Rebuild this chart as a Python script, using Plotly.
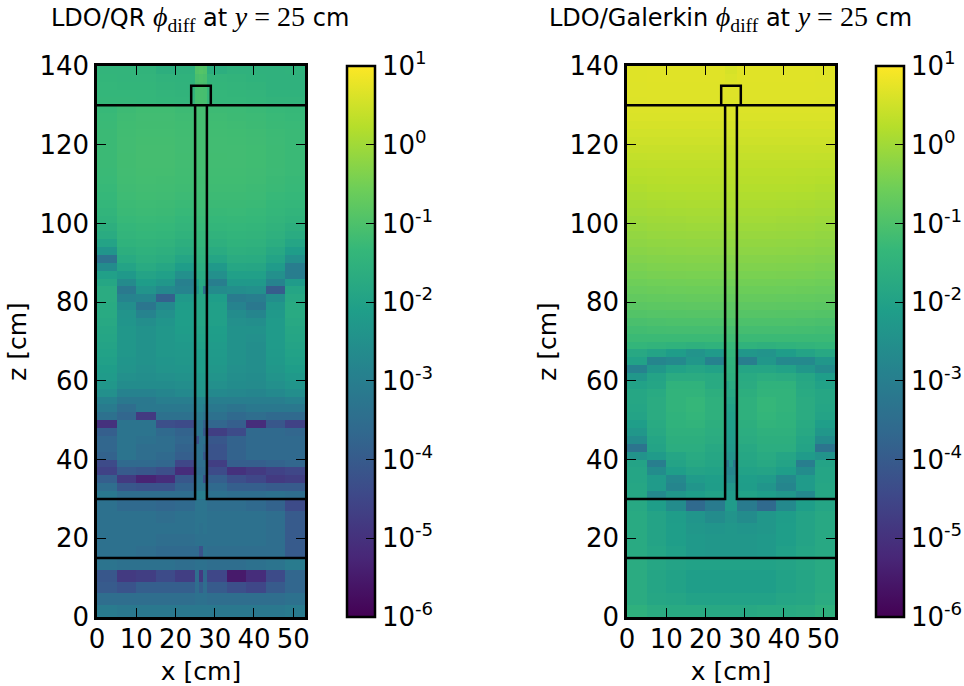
import plotly.graph_objects as go

# Mesh edges (cm)
x_edges = [0, 5, 10, 15, 20, 25, 26, 27, 28, 33, 38, 43, 48, 53]
z_edges = [0, 3, 6, 9, 12, 15, 18, 21, 24, 27, 30] + list(range(32, 142, 2))

# log10(phi_diff); rows listed from the top (z=140) to the bottom (z=0)
qr_rows = [
    [-1.42,-1.42,-1.45,-1.60,-1.55,-0.95,-0.90,-0.95,-1.62,-1.52,-1.52,-1.52,-1.50],
    [-1.40,-1.42,-1.42,-1.48,-1.50,-1.05,-1.00,-1.05,-1.42,-1.45,-1.50,-1.52,-1.52],
    [-1.38,-1.40,-1.40,-1.45,-1.48,-1.10,-1.05,-1.10,-1.40,-1.42,-1.45,-1.52,-1.52],
    [-1.36,-1.38,-1.38,-1.42,-1.45,-1.10,-1.08,-1.10,-1.38,-1.40,-1.42,-1.50,-1.50],
    [-1.35,-1.35,-1.38,-1.40,-1.42,-1.10,-1.08,-1.10,-1.38,-1.38,-1.40,-1.45,-1.45],
    [-1.30,-1.22,-1.18,-1.18,-1.22,-1.12,-1.12,-1.12,-1.22,-1.24,-1.26,-1.30,-1.32],
    [-1.28,-1.20,-1.16,-1.16,-1.20,-1.12,-1.12,-1.12,-1.20,-1.22,-1.24,-1.28,-1.30],
    [-1.26,-1.18,-1.15,-1.15,-1.18,-1.12,-1.12,-1.12,-1.18,-1.20,-1.22,-1.26,-1.28],
    [-1.25,-1.17,-1.14,-1.14,-1.17,-1.12,-1.12,-1.12,-1.17,-1.18,-1.20,-1.24,-1.27],
    [-1.25,-1.16,-1.13,-1.13,-1.16,-1.12,-1.12,-1.12,-1.16,-1.17,-1.19,-1.23,-1.26],
    [-1.25,-1.16,-1.12,-1.12,-1.16,-1.12,-1.12,-1.12,-1.16,-1.16,-1.18,-1.22,-1.26],
    [-1.25,-1.15,-1.12,-1.12,-1.15,-1.12,-1.12,-1.12,-1.15,-1.16,-1.18,-1.22,-1.26],
    [-1.25,-1.15,-1.12,-1.12,-1.16,-1.13,-1.13,-1.13,-1.16,-1.16,-1.18,-1.22,-1.26],
    [-1.26,-1.16,-1.13,-1.13,-1.17,-1.14,-1.14,-1.14,-1.17,-1.17,-1.19,-1.23,-1.27],
    [-1.28,-1.17,-1.14,-1.15,-1.18,-1.15,-1.15,-1.15,-1.18,-1.18,-1.20,-1.25,-1.29],
    [-1.30,-1.19,-1.16,-1.17,-1.20,-1.16,-1.16,-1.16,-1.20,-1.20,-1.22,-1.27,-1.31],
    [-1.33,-1.21,-1.18,-1.19,-1.23,-1.18,-1.18,-1.18,-1.22,-1.22,-1.24,-1.30,-1.34],
    [-1.37,-1.24,-1.21,-1.22,-1.27,-1.20,-1.20,-1.20,-1.25,-1.25,-1.27,-1.33,-1.38],
    [-1.43,-1.27,-1.24,-1.25,-1.31,-1.23,-1.23,-1.23,-1.29,-1.28,-1.30,-1.37,-1.43],
    [-1.50,-1.31,-1.28,-1.29,-1.36,-1.26,-1.26,-1.26,-1.34,-1.32,-1.34,-1.42,-1.50],
    [-1.60,-1.36,-1.32,-1.34,-1.42,-1.30,-1.30,-1.30,-1.40,-1.37,-1.39,-1.48,-1.60],
    [-1.72,-1.42,-1.38,-1.40,-1.50,-1.35,-1.35,-1.35,-1.48,-1.43,-1.45,-1.56,-1.72],
    [-1.95,-1.50,-1.45,-1.48,-1.60,-1.40,-1.40,-1.40,-1.58,-1.50,-1.52,-1.66,-1.90],
    [-2.35,-1.60,-1.53,-1.57,-1.72,-1.48,-1.48,-1.48,-1.72,-1.58,-1.60,-1.80,-2.15],
    [-3.35,-1.75,-1.62,-1.68,-1.90,-1.55,-1.55,-1.55,-1.90,-1.70,-1.72,-1.95,-2.50],
    [-2.60,-1.95,-1.75,-1.85,-2.15,-1.65,-1.65,-1.65,-2.25,-1.85,-1.88,-2.20,-3.05],
    [-2.05,-2.25,-1.95,-2.05,-2.50,-1.75,-1.75,-1.75,-2.50,-2.05,-2.05,-2.50,-3.05],
    [-1.85,-2.65,-2.15,-2.30,-2.95,-2.10,-1.80,-1.85,-3.00,-2.25,-2.25,-2.85,-2.20],
    [-1.70,-3.15,-2.40,-2.70,-2.85,-2.35,-1.85,-3.40,-2.65,-2.55,-2.50,-3.95,-1.90],
    [-1.70,-2.85,-2.80,-3.85,-2.25,-1.90,-1.90,-1.90,-2.10,-3.10,-3.00,-2.55,-1.80],
    [-1.75,-2.55,-3.25,-2.70,-2.15,-1.90,-1.90,-1.90,-2.05,-2.85,-3.20,-2.30,-1.75],
    [-1.75,-2.40,-2.85,-2.50,-2.10,-1.90,-1.90,-1.90,-2.05,-2.60,-2.80,-2.25,-1.75],
    [-1.80,-2.35,-2.55,-2.35,-2.10,-1.90,-1.90,-1.90,-2.05,-2.50,-2.55,-2.20,-1.80],
    [-1.85,-2.30,-2.45,-2.30,-2.15,-1.95,-1.95,-1.95,-2.10,-2.45,-2.45,-2.20,-1.85],
    [-1.90,-2.30,-2.45,-2.30,-2.20,-2.00,-2.00,-2.00,-2.15,-2.45,-2.50,-2.20,-1.90],
    [-1.95,-2.30,-2.45,-2.30,-2.25,-2.05,-2.05,-2.05,-2.20,-2.45,-2.55,-2.20,-1.95],
    [-2.00,-2.30,-2.45,-2.30,-2.28,-2.10,-2.10,-2.10,-2.22,-2.45,-2.55,-2.22,-2.00],
    [-2.05,-2.35,-2.45,-2.35,-2.30,-2.15,-2.15,-2.15,-2.25,-2.45,-2.55,-2.25,-2.05],
    [-2.15,-2.40,-2.50,-2.40,-2.35,-2.15,-2.15,-2.15,-2.30,-2.50,-2.55,-2.30,-2.15],
    [-2.20,-2.50,-2.55,-2.50,-2.45,-2.25,-2.25,-2.25,-2.40,-2.55,-2.60,-2.40,-2.25],
    [-2.30,-2.60,-2.60,-2.60,-2.55,-2.30,-2.30,-2.30,-2.50,-2.60,-2.65,-2.50,-2.35],
    [-2.50,-2.90,-2.90,-2.80,-2.70,-2.40,-2.40,-2.40,-2.70,-2.75,-2.80,-2.70,-2.55],
    [-2.90,-3.20,-3.20,-3.00,-3.00,-2.80,-2.80,-2.80,-3.00,-3.00,-3.00,-3.00,-2.90],
    [-3.10,-3.50,-3.20,-3.20,-3.20,-2.90,-2.90,-3.10,-3.20,-3.30,-3.20,-3.20,-3.20],
    [-3.40,-3.70,-4.80,-3.40,-3.40,-3.10,-3.10,-3.30,-3.40,-3.60,-3.50,-3.60,-3.60],
    [-5.00,-3.30,-3.30,-4.30,-4.40,-3.30,-3.30,-3.80,-3.70,-3.90,-5.10,-4.10,-4.60],
    [-3.90,-3.30,-3.30,-3.60,-3.80,-3.30,-3.30,-4.10,-4.70,-4.40,-3.60,-3.60,-3.70],
    [-3.70,-3.30,-3.40,-3.50,-3.70,-4.20,-3.40,-3.40,-4.10,-3.80,-3.60,-3.60,-3.60],
    [-3.70,-3.30,-3.50,-3.50,-3.80,-3.40,-3.40,-3.70,-4.20,-3.80,-3.60,-3.60,-3.60],
    [-3.80,-3.30,-3.50,-3.60,-3.90,-3.40,-3.40,-4.10,-4.20,-3.80,-3.60,-3.60,-3.60],
    [-4.40,-3.60,-3.60,-3.70,-4.50,-3.50,-3.50,-3.50,-4.70,-3.90,-3.90,-3.80,-3.70],
    [-4.60,-4.00,-4.10,-4.30,-5.10,-3.60,-3.60,-3.60,-4.40,-5.00,-4.80,-4.60,-4.50],
    [-3.90,-4.80,-5.30,-5.10,-4.10,-3.40,-3.40,-4.30,-3.90,-4.30,-4.50,-4.80,-4.70],
    [-3.50,-4.10,-4.20,-4.20,-3.80,-3.30,-3.30,-3.30,-3.60,-3.90,-3.90,-4.00,-4.00],
    [-3.20,-3.50,-3.50,-3.50,-3.50,-3.00,-3.00,-3.00,-3.40,-3.50,-3.50,-3.40,-3.50],
    [-3.40,-3.60,-3.60,-3.70,-3.60,-3.30,-3.30,-3.30,-3.50,-3.50,-3.60,-3.80,-4.40],
    [-3.40,-3.40,-3.40,-3.50,-3.40,-3.30,-3.30,-3.30,-3.40,-3.40,-3.40,-3.50,-4.00],
    [-3.40,-3.40,-3.40,-3.40,-3.40,-3.30,-3.40,-3.30,-3.40,-3.40,-3.40,-3.50,-4.00],
    [-3.40,-3.40,-3.40,-3.50,-3.50,-3.40,-3.40,-3.40,-3.40,-3.40,-3.40,-3.50,-4.00],
    [-3.40,-3.40,-3.50,-3.60,-3.60,-3.60,-4.20,-3.40,-3.50,-3.50,-3.50,-3.50,-4.00],
    [-3.30,-3.40,-3.40,-3.40,-3.50,-3.40,-3.40,-3.40,-3.50,-3.50,-3.40,-3.30,-3.10],
    [-4.10,-4.80,-4.70,-4.40,-4.70,-3.50,-4.80,-3.60,-4.50,-5.50,-5.10,-4.40,-3.70],
    [-4.00,-4.20,-3.90,-3.90,-3.90,-3.50,-3.90,-3.50,-4.00,-4.30,-4.50,-4.00,-3.70],
    [-3.50,-3.50,-3.50,-3.50,-3.50,-3.40,-3.40,-3.40,-3.50,-3.50,-3.50,-3.50,-3.40],
    [-3.10,-3.20,-3.20,-3.20,-3.20,-3.20,-3.20,-3.20,-3.20,-3.20,-3.20,-3.20,-3.10],
]

galerkin_rows = [
    [0.68,0.69,0.69,0.69,0.69,0.58,0.58,0.58,0.69,0.69,0.69,0.69,0.68],
    [0.68,0.69,0.69,0.69,0.69,0.62,0.62,0.62,0.69,0.69,0.69,0.69,0.68],
    [0.67,0.68,0.68,0.68,0.68,0.66,0.66,0.66,0.68,0.68,0.68,0.68,0.67],
    [0.66,0.67,0.67,0.67,0.67,0.66,0.66,0.66,0.67,0.67,0.67,0.67,0.66],
    [0.65,0.66,0.66,0.66,0.66,0.65,0.65,0.65,0.66,0.66,0.66,0.66,0.65],
    [0.64,0.64,0.64,0.64,0.64,0.64,0.64,0.64,0.64,0.64,0.64,0.64,0.64],
    [0.62,0.62,0.62,0.62,0.62,0.62,0.62,0.62,0.62,0.62,0.62,0.62,0.62],
    [0.58,0.58,0.58,0.58,0.58,0.58,0.58,0.58,0.58,0.58,0.58,0.58,0.58],
    [0.53,0.53,0.53,0.53,0.53,0.53,0.53,0.53,0.53,0.53,0.53,0.53,0.53],
    [0.48,0.48,0.48,0.48,0.48,0.48,0.48,0.48,0.48,0.48,0.48,0.48,0.48],
    [0.43,0.43,0.43,0.43,0.43,0.43,0.43,0.43,0.43,0.43,0.43,0.43,0.43],
    [0.37,0.38,0.38,0.38,0.38,0.38,0.38,0.38,0.38,0.38,0.38,0.38,0.37],
    [0.32,0.33,0.33,0.33,0.33,0.33,0.33,0.33,0.33,0.33,0.33,0.33,0.32],
    [0.27,0.28,0.29,0.29,0.29,0.29,0.29,0.29,0.29,0.29,0.29,0.28,0.27],
    [0.22,0.24,0.25,0.25,0.25,0.25,0.25,0.25,0.25,0.25,0.25,0.24,0.22],
    [0.17,0.20,0.21,0.21,0.21,0.21,0.21,0.21,0.21,0.21,0.21,0.20,0.17],
    [0.12,0.15,0.16,0.17,0.17,0.17,0.17,0.17,0.17,0.17,0.16,0.15,0.12],
    [0.07,0.10,0.11,0.12,0.12,0.12,0.12,0.12,0.12,0.12,0.11,0.10,0.07],
    [0.02,0.05,0.06,0.07,0.07,0.07,0.07,0.07,0.07,0.07,0.06,0.05,0.02],
    [-0.04,-0.01,0.00,0.02,0.02,0.02,0.02,0.02,0.02,0.02,0.00,-0.01,-0.04],
    [-0.09,-0.06,-0.05,-0.04,-0.04,-0.04,-0.04,-0.04,-0.04,-0.04,-0.05,-0.06,-0.09],
    [-0.15,-0.12,-0.11,-0.10,-0.10,-0.10,-0.10,-0.10,-0.10,-0.10,-0.11,-0.12,-0.15],
    [-0.21,-0.18,-0.17,-0.16,-0.16,-0.16,-0.16,-0.16,-0.16,-0.16,-0.17,-0.18,-0.21],
    [-0.27,-0.24,-0.23,-0.22,-0.22,-0.22,-0.22,-0.22,-0.22,-0.22,-0.23,-0.24,-0.27],
    [-0.34,-0.31,-0.30,-0.29,-0.29,-0.29,-0.29,-0.29,-0.29,-0.29,-0.30,-0.31,-0.34],
    [-0.41,-0.38,-0.37,-0.36,-0.36,-0.36,-0.36,-0.36,-0.36,-0.36,-0.37,-0.38,-0.41],
    [-0.48,-0.45,-0.44,-0.43,-0.43,-0.43,-0.43,-0.43,-0.43,-0.43,-0.44,-0.45,-0.48],
    [-0.56,-0.53,-0.52,-0.51,-0.51,-0.51,-0.51,-0.51,-0.51,-0.51,-0.52,-0.53,-0.56],
    [-0.64,-0.61,-0.60,-0.59,-0.59,-0.59,-0.59,-0.59,-0.59,-0.59,-0.60,-0.61,-0.64],
    [-0.72,-0.70,-0.69,-0.68,-0.68,-0.68,-0.68,-0.68,-0.68,-0.68,-0.69,-0.70,-0.72],
    [-0.82,-0.80,-0.79,-0.78,-0.78,-0.78,-0.78,-0.78,-0.78,-0.78,-0.79,-0.80,-0.82],
    [-0.92,-0.90,-0.89,-0.88,-0.88,-0.86,-0.86,-0.86,-0.88,-0.88,-0.89,-0.90,-0.92],
    [-1.05,-1.02,-1.01,-1.00,-1.00,-0.96,-0.96,-0.96,-1.00,-1.00,-1.01,-1.02,-1.05],
    [-1.15,-1.13,-1.12,-1.12,-1.12,-1.08,-1.08,-1.08,-1.12,-1.12,-1.12,-1.13,-1.15],
    [-1.25,-1.25,-1.25,-1.25,-1.25,-1.18,-1.18,-1.18,-1.25,-1.25,-1.25,-1.25,-1.25],
    [-1.40,-1.45,-1.50,-1.55,-1.50,-1.30,-1.30,-1.30,-1.50,-1.55,-1.50,-1.45,-1.40],
    [-1.80,-1.95,-2.15,-2.40,-2.20,-1.40,-1.40,-1.40,-2.30,-2.40,-2.15,-1.95,-1.80],
    [-2.00,-2.80,-2.70,-2.30,-2.90,-1.50,-1.50,-1.50,-3.00,-2.30,-2.70,-2.70,-2.30],
    [-2.90,-2.30,-2.00,-1.90,-2.00,-1.55,-1.55,-1.55,-1.90,-1.90,-2.00,-2.30,-2.60],
    [-2.30,-1.95,-1.70,-1.70,-1.75,-1.60,-1.60,-1.60,-1.75,-1.65,-1.70,-1.85,-2.10],
    [-2.00,-1.90,-1.50,-1.50,-1.75,-1.90,-1.70,-1.70,-1.70,-1.50,-1.50,-1.80,-2.00],
    [-1.85,-1.75,-1.45,-1.45,-1.60,-1.80,-1.80,-1.80,-1.60,-1.45,-1.45,-1.75,-1.85],
    [-1.85,-1.70,-1.45,-1.35,-1.55,-1.90,-1.90,-1.90,-1.55,-1.35,-1.45,-1.70,-1.85],
    [-1.90,-1.70,-1.45,-1.35,-1.55,-2.00,-2.00,-2.00,-1.55,-1.35,-1.45,-1.70,-1.90],
    [-1.95,-1.70,-1.50,-1.40,-1.55,-2.05,-2.05,-2.05,-1.55,-1.40,-1.50,-1.70,-1.95],
    [-2.10,-1.75,-1.50,-1.45,-1.60,-2.10,-2.10,-2.10,-1.60,-1.45,-1.50,-1.75,-2.10],
    [-2.30,-1.80,-1.55,-1.55,-1.65,-2.15,-2.15,-2.15,-1.65,-1.55,-1.55,-1.80,-2.30],
    [-2.60,-1.90,-1.60,-1.60,-1.70,-2.20,-2.20,-2.20,-1.70,-1.60,-1.60,-1.90,-2.60],
    [-3.30,-1.95,-1.65,-1.65,-1.80,-2.25,-2.25,-2.25,-1.80,-1.65,-1.65,-1.95,-3.30],
    [-2.40,-2.20,-1.90,-1.75,-1.85,-2.40,-2.40,-2.40,-1.85,-1.75,-1.90,-2.20,-2.40],
    [-1.95,-3.00,-1.95,-1.80,-1.90,-3.10,-2.40,-3.10,-1.90,-1.80,-1.95,-3.00,-1.95],
    [-1.90,-2.60,-2.10,-1.95,-2.00,-2.80,-2.80,-2.80,-2.00,-1.95,-2.10,-2.60,-1.90],
    [-1.90,-2.20,-2.70,-2.20,-2.10,-2.60,-2.60,-2.60,-2.10,-2.20,-2.70,-2.20,-1.90],
    [-1.85,-2.20,-2.80,-2.35,-2.15,-2.30,-2.30,-2.30,-2.15,-2.35,-2.80,-2.20,-1.85],
    [-1.85,-2.70,-2.30,-2.10,-2.00,-2.20,-2.20,-2.20,-2.00,-2.10,-2.30,-2.70,-1.85],
    [-1.80,-2.10,-2.60,-3.60,-3.10,-2.20,-2.20,-2.20,-3.10,-3.60,-2.70,-2.10,-1.90],
    [-1.75,-1.95,-2.15,-2.35,-2.60,-2.40,-2.40,-2.40,-2.60,-2.30,-2.15,-1.95,-1.80],
    [-1.75,-1.95,-2.10,-2.30,-2.35,-2.30,-2.30,-2.30,-2.35,-2.30,-2.10,-1.95,-1.80],
    [-1.75,-1.95,-2.10,-2.25,-2.30,-2.30,-2.30,-2.30,-2.30,-2.25,-2.10,-1.95,-1.80],
    [-1.75,-1.90,-2.05,-2.25,-2.30,-2.30,-2.30,-2.30,-2.30,-2.25,-2.05,-1.90,-1.80],
    [-1.70,-1.85,-1.95,-2.00,-2.00,-2.00,-2.00,-2.00,-2.00,-2.00,-1.95,-1.85,-1.75],
    [-1.70,-1.90,-2.00,-2.10,-2.10,-2.10,-2.10,-2.10,-2.10,-2.10,-2.00,-1.90,-1.75],
    [-1.70,-1.90,-2.00,-2.10,-2.10,-2.10,-2.10,-2.10,-2.10,-2.10,-2.00,-1.90,-1.75],
    [-1.70,-1.85,-1.90,-2.00,-2.00,-2.00,-2.00,-2.00,-2.00,-2.00,-1.90,-1.85,-1.70],
    [-1.55,-1.70,-1.75,-1.75,-1.80,-1.80,-1.80,-1.80,-1.80,-1.75,-1.75,-1.70,-1.55],
]

# Geometry outline segments (cm): x and z, None separates segments
outline_x = [0, 53, None, 24, 24, 29, 29, None, 25, 25, 0, None, 28, 28, 53, None, 0, 53]
outline_z = [130, 130, None, 130, 135, 135, 130, None, 130, 30, 30, None, 130, 30, 30, None, 15, 15]

x_ticks = [0, 10, 20, 30, 40, 50]
z_ticks = [0, 20, 40, 60, 80, 100, 120, 140]
cbar_exponents = [-6, -5, -4, -3, -2, -1, 0, 1]
cbar_labels = ["10<sup>%d</sup>" % e for e in cbar_exponents]

W, H = 964, 686
FONT = "DejaVu Sans"
MATH = "Liberation Serif"
TICK = 26

def title(name):
    return (name + ' <span style="font-family:%s;font-size:28px"><i>ϕ</i><sub>diff</sub></span> at '
            '<span style="font-family:%s;font-size:28px"><i>y</i> = 25</span> cm' % (MATH, MATH))

panels = [
    dict(rows=qr_rows, name="LDO/QR", ax="", px=(97, 305), cb=347, tx=200),
    dict(rows=galerkin_rows, name="LDO/Galerkin", ax="2", px=(627, 835), cb=876, tx=730),
]

fig = go.Figure()
layout = dict(
    width=W, height=H, margin=dict(l=0, r=0, t=0, b=0, autoexpand=False),
    paper_bgcolor="white", plot_bgcolor="white",
    font=dict(family=FONT, size=TICK, color="black"), showlegend=False, annotations=[],
)
top, bottom = 66, 617
for p in panels:
    fig.add_trace(go.Heatmap(
        x=x_edges, y=z_edges, z=p["rows"][::-1], zmin=-6, zmax=1, colorscale="Viridis",
        xaxis="x" + p["ax"], yaxis="y" + p["ax"], hoverinfo="skip",
        colorbar=dict(
            x=p["cb"] / W, xanchor="left", xpad=0, ypad=0, thickness=28, thicknessmode="pixels",
            len=(bottom - top) / H, lenmode="fraction", y=1 - bottom / H, yanchor="bottom",
            tickmode="array", tickvals=cbar_exponents, ticktext=cbar_labels,
            ticks="inside", ticklen=10, tickwidth=1, tickcolor="black",
            outlinewidth=2.5, outlinecolor="black", tickfont=dict(size=TICK, family=FONT),
        ),
    ))
    fig.add_trace(go.Scatter(
        x=outline_x, y=outline_z, mode="lines", line=dict(color="black", width=2.5),
        xaxis="x" + p["ax"], yaxis="y" + p["ax"], hoverinfo="skip",
    ))
    common = dict(showline=True, linewidth=2.5, linecolor="black", mirror="allticks", ticks="inside",
                  ticklen=9, tickwidth=1.2, tickcolor="black", showgrid=False, zeroline=False,
                  tickfont=dict(size=TICK, family=FONT))
    layout["xaxis" + p["ax"]] = dict(
        common, domain=[p["px"][0] / W, p["px"][1] / W], range=[0, 53], tickmode="array", tickvals=x_ticks,
        anchor="y" + p["ax"], ticklabelstandoff=-3, title=dict(text="x [cm]", font=dict(size=25), standoff=12),
    )
    layout["yaxis" + p["ax"]] = dict(
        common, domain=[1 - bottom / H, 1 - top / H], range=[0, 140], tickmode="array", tickvals=z_ticks,
        anchor="x" + p["ax"], title=dict(text="z [cm]", font=dict(size=25), standoff=6),
    )
    layout["annotations"].append(dict(
        text=title(p["name"]), x=p["tx"] / W, y=1 - 18 / H, xref="paper", yref="paper",
        xanchor="center", yanchor="middle", showarrow=False, font=dict(size=24, family=FONT),
    ))
fig.update_layout(**layout)
fig.write_html("out.html", config={"displayModeBar": False},
               post_script="document.body.style.margin='0';document.body.style.overflow='hidden';")
